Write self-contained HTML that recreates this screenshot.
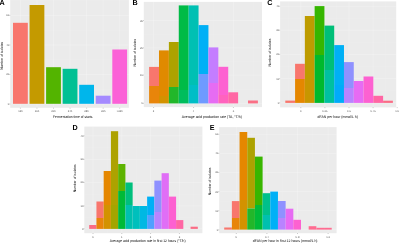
<!DOCTYPE html>
<html><head><meta charset="utf-8"><style>
html,body{margin:0;padding:0;background:#fff;}
body{width:400px;height:243px;overflow:hidden;}
svg{display:block;}
text{text-rendering:geometricPrecision;}
svg{will-change:transform;}
</style></head><body>
<svg width="400" height="243" viewBox="0 0 400 243">
<rect width="400" height="243" fill="#FFFFFF"/>
<rect x="10.20" y="0.00" width="118.70" height="107.80" fill="#EBEBEB"/>
<line x1="10.20" y1="89.25" x2="128.90" y2="89.25" stroke="#FFFFFF" stroke-width="0.3" stroke-opacity="0.3"/>
<line x1="10.20" y1="59.75" x2="128.90" y2="59.75" stroke="#FFFFFF" stroke-width="0.3" stroke-opacity="0.3"/>
<line x1="10.20" y1="30.20" x2="128.90" y2="30.20" stroke="#FFFFFF" stroke-width="0.3" stroke-opacity="0.3"/>
<line x1="10.20" y1="0.65" x2="128.90" y2="0.65" stroke="#FFFFFF" stroke-width="0.3" stroke-opacity="0.3"/>
<line x1="10.20" y1="104.00" x2="128.90" y2="104.00" stroke="#FFFFFF" stroke-width="0.5" stroke-opacity="0.45"/>
<line x1="10.20" y1="74.50" x2="128.90" y2="74.50" stroke="#FFFFFF" stroke-width="0.5" stroke-opacity="0.45"/>
<line x1="10.20" y1="45.00" x2="128.90" y2="45.00" stroke="#FFFFFF" stroke-width="0.5" stroke-opacity="0.45"/>
<line x1="10.20" y1="15.40" x2="128.90" y2="15.40" stroke="#FFFFFF" stroke-width="0.5" stroke-opacity="0.45"/>
<line x1="20.40" y1="0.00" x2="20.40" y2="107.80" stroke="#FFFFFF" stroke-width="0.5" stroke-opacity="0.45"/>
<line x1="36.95" y1="0.00" x2="36.95" y2="107.80" stroke="#FFFFFF" stroke-width="0.5" stroke-opacity="0.45"/>
<line x1="53.50" y1="0.00" x2="53.50" y2="107.80" stroke="#FFFFFF" stroke-width="0.5" stroke-opacity="0.45"/>
<line x1="70.05" y1="0.00" x2="70.05" y2="107.80" stroke="#FFFFFF" stroke-width="0.5" stroke-opacity="0.45"/>
<line x1="86.60" y1="0.00" x2="86.60" y2="107.80" stroke="#FFFFFF" stroke-width="0.5" stroke-opacity="0.45"/>
<line x1="103.15" y1="0.00" x2="103.15" y2="107.80" stroke="#FFFFFF" stroke-width="0.5" stroke-opacity="0.45"/>
<line x1="119.70" y1="0.00" x2="119.70" y2="107.80" stroke="#FFFFFF" stroke-width="0.5" stroke-opacity="0.45"/>
<rect x="13.00" y="22.80" width="14.80" height="81.00" fill="#F8766D"/>
<rect x="29.55" y="5.00" width="14.80" height="98.80" fill="#C49A00"/>
<rect x="46.10" y="67.20" width="14.80" height="36.60" fill="#53B400"/>
<rect x="62.65" y="68.80" width="14.80" height="35.00" fill="#00C094"/>
<rect x="79.20" y="84.80" width="14.80" height="19.00" fill="#00B6EB"/>
<rect x="95.75" y="95.70" width="14.80" height="8.10" fill="#A58AFF"/>
<rect x="112.30" y="49.50" width="14.80" height="54.30" fill="#FB61D7"/>
<line x1="9.50" y1="104.00" x2="10.20" y2="104.00" stroke="#333333" stroke-width="0.35"/>
<line x1="9.50" y1="74.50" x2="10.20" y2="74.50" stroke="#333333" stroke-width="0.35"/>
<line x1="9.50" y1="45.00" x2="10.20" y2="45.00" stroke="#333333" stroke-width="0.35"/>
<line x1="9.50" y1="15.40" x2="10.20" y2="15.40" stroke="#333333" stroke-width="0.35"/>
<line x1="20.40" y1="107.80" x2="20.40" y2="108.50" stroke="#333333" stroke-width="0.35"/>
<line x1="36.95" y1="107.80" x2="36.95" y2="108.50" stroke="#333333" stroke-width="0.35"/>
<line x1="53.50" y1="107.80" x2="53.50" y2="108.50" stroke="#333333" stroke-width="0.35"/>
<line x1="70.05" y1="107.80" x2="70.05" y2="108.50" stroke="#333333" stroke-width="0.35"/>
<line x1="86.60" y1="107.80" x2="86.60" y2="108.50" stroke="#333333" stroke-width="0.35"/>
<line x1="103.15" y1="107.80" x2="103.15" y2="108.50" stroke="#333333" stroke-width="0.35"/>
<line x1="119.70" y1="107.80" x2="119.70" y2="108.50" stroke="#333333" stroke-width="0.35"/>
<text transform="translate(9.30 104.95) scale(0.1)" font-family="Liberation Sans, sans-serif" font-size="27.0" font-weight="normal" text-anchor="end" fill="#4D4D4D">0</text>
<text transform="translate(9.30 75.45) scale(0.1)" font-family="Liberation Sans, sans-serif" font-size="27.0" font-weight="normal" text-anchor="end" fill="#4D4D4D">20</text>
<text transform="translate(9.30 45.95) scale(0.1)" font-family="Liberation Sans, sans-serif" font-size="27.0" font-weight="normal" text-anchor="end" fill="#4D4D4D">40</text>
<text transform="translate(9.30 16.35) scale(0.1)" font-family="Liberation Sans, sans-serif" font-size="27.0" font-weight="normal" text-anchor="end" fill="#4D4D4D">60</text>
<text transform="translate(20.40 112.20) scale(0.1)" font-family="Liberation Sans, sans-serif" font-size="27.0" font-weight="normal" text-anchor="middle" fill="#4D4D4D">12h</text>
<text transform="translate(36.95 112.20) scale(0.1)" font-family="Liberation Sans, sans-serif" font-size="27.0" font-weight="normal" text-anchor="middle" fill="#4D4D4D">16h</text>
<text transform="translate(53.50 112.20) scale(0.1)" font-family="Liberation Sans, sans-serif" font-size="27.0" font-weight="normal" text-anchor="middle" fill="#4D4D4D">20h</text>
<text transform="translate(70.05 112.20) scale(0.1)" font-family="Liberation Sans, sans-serif" font-size="27.0" font-weight="normal" text-anchor="middle" fill="#4D4D4D">24h</text>
<text transform="translate(86.60 112.20) scale(0.1)" font-family="Liberation Sans, sans-serif" font-size="27.0" font-weight="normal" text-anchor="middle" fill="#4D4D4D">28h</text>
<text transform="translate(103.15 112.20) scale(0.1)" font-family="Liberation Sans, sans-serif" font-size="27.0" font-weight="normal" text-anchor="middle" fill="#4D4D4D">32h</text>
<text transform="translate(119.70 112.20) scale(0.1)" font-family="Liberation Sans, sans-serif" font-size="27.0" font-weight="normal" text-anchor="middle" fill="#4D4D4D">&gt;32h</text>
<text transform="translate(53.10 118.10) scale(0.1)" font-family="Liberation Sans, sans-serif" font-size="37.0" font-weight="normal" text-anchor="start" fill="#000" textLength="394.0" lengthAdjust="spacingAndGlyphs">Fermentation time of starts</text>
<text transform="translate(2.90 55.75) rotate(-90) scale(0.1)" font-family="Liberation Sans, sans-serif" font-size="37.0" font-weight="normal" text-anchor="middle" fill="#000" textLength="279.0" lengthAdjust="spacingAndGlyphs">Number of isolates</text>
<text transform="translate(-0.40 4.60) scale(0.1)" font-family="Liberation Sans, sans-serif" font-size="72.0" font-weight="bold" text-anchor="start" fill="#000">A</text>
<rect x="143.80" y="1.90" width="118.20" height="105.20" fill="#EBEBEB"/>
<line x1="143.80" y1="89.20" x2="262.00" y2="89.20" stroke="#FFFFFF" stroke-width="0.3" stroke-opacity="0.3"/>
<line x1="143.80" y1="61.50" x2="262.00" y2="61.50" stroke="#FFFFFF" stroke-width="0.3" stroke-opacity="0.3"/>
<line x1="143.80" y1="34.25" x2="262.00" y2="34.25" stroke="#FFFFFF" stroke-width="0.3" stroke-opacity="0.3"/>
<line x1="143.80" y1="6.95" x2="262.00" y2="6.95" stroke="#FFFFFF" stroke-width="0.3" stroke-opacity="0.3"/>
<line x1="173.60" y1="1.90" x2="173.60" y2="107.10" stroke="#FFFFFF" stroke-width="0.3" stroke-opacity="0.3"/>
<line x1="213.50" y1="1.90" x2="213.50" y2="107.10" stroke="#FFFFFF" stroke-width="0.3" stroke-opacity="0.3"/>
<line x1="253.40" y1="1.90" x2="253.40" y2="107.10" stroke="#FFFFFF" stroke-width="0.3" stroke-opacity="0.3"/>
<line x1="143.80" y1="103.30" x2="262.00" y2="103.30" stroke="#FFFFFF" stroke-width="0.5" stroke-opacity="0.45"/>
<line x1="143.80" y1="75.10" x2="262.00" y2="75.10" stroke="#FFFFFF" stroke-width="0.5" stroke-opacity="0.45"/>
<line x1="143.80" y1="47.90" x2="262.00" y2="47.90" stroke="#FFFFFF" stroke-width="0.5" stroke-opacity="0.45"/>
<line x1="143.80" y1="20.60" x2="262.00" y2="20.60" stroke="#FFFFFF" stroke-width="0.5" stroke-opacity="0.45"/>
<line x1="153.60" y1="1.90" x2="153.60" y2="107.10" stroke="#FFFFFF" stroke-width="0.5" stroke-opacity="0.45"/>
<line x1="193.60" y1="1.90" x2="193.60" y2="107.10" stroke="#FFFFFF" stroke-width="0.5" stroke-opacity="0.45"/>
<line x1="233.40" y1="1.90" x2="233.40" y2="107.10" stroke="#FFFFFF" stroke-width="0.5" stroke-opacity="0.45"/>
<rect x="149.10" y="66.90" width="9.89" height="19.10" fill="#F8766D"/>
<rect x="149.10" y="86.00" width="9.89" height="17.40" fill="#E8850A"/>
<rect x="158.99" y="50.40" width="9.89" height="45.60" fill="#E08A00"/>
<rect x="158.99" y="96.00" width="9.89" height="7.40" fill="#D39200"/>
<rect x="168.88" y="42.00" width="9.89" height="45.00" fill="#ADA200"/>
<rect x="168.88" y="87.00" width="9.89" height="16.40" fill="#22B72A"/>
<rect x="178.77" y="5.40" width="9.89" height="84.60" fill="#00BB46"/>
<rect x="178.77" y="90.00" width="9.89" height="13.40" fill="#00BD5C"/>
<rect x="188.66" y="5.40" width="9.89" height="79.60" fill="#00C0B3"/>
<rect x="188.66" y="85.00" width="9.89" height="18.40" fill="#00BEC6"/>
<rect x="198.55" y="25.10" width="9.89" height="48.90" fill="#00B0F6"/>
<rect x="198.55" y="74.00" width="9.89" height="29.40" fill="#6F9AFF"/>
<rect x="208.44" y="47.40" width="9.89" height="35.60" fill="#C47DFF"/>
<rect x="208.44" y="83.00" width="9.89" height="20.40" fill="#E66CF3"/>
<rect x="218.33" y="66.80" width="9.89" height="28.20" fill="#FD61D1"/>
<rect x="218.33" y="95.00" width="9.89" height="8.40" fill="#FF63BE"/>
<rect x="228.22" y="92.30" width="9.89" height="11.10" fill="#FF67A4"/>
<rect x="228.22" y="103.40" width="9.89" height="0.00" fill="#FF67A4"/>
<rect x="248.00" y="100.50" width="9.89" height="2.90" fill="#FA6F85"/>
<rect x="248.00" y="103.40" width="9.89" height="0.00" fill="#FA6F85"/>
<line x1="143.10" y1="103.30" x2="143.80" y2="103.30" stroke="#333333" stroke-width="0.35"/>
<line x1="143.10" y1="75.10" x2="143.80" y2="75.10" stroke="#333333" stroke-width="0.35"/>
<line x1="143.10" y1="47.90" x2="143.80" y2="47.90" stroke="#333333" stroke-width="0.35"/>
<line x1="143.10" y1="20.60" x2="143.80" y2="20.60" stroke="#333333" stroke-width="0.35"/>
<line x1="153.60" y1="107.10" x2="153.60" y2="107.80" stroke="#333333" stroke-width="0.35"/>
<line x1="193.60" y1="107.10" x2="193.60" y2="107.80" stroke="#333333" stroke-width="0.35"/>
<line x1="233.40" y1="107.10" x2="233.40" y2="107.80" stroke="#333333" stroke-width="0.35"/>
<text transform="translate(142.90 104.25) scale(0.1)" font-family="Liberation Sans, sans-serif" font-size="27.0" font-weight="normal" text-anchor="end" fill="#4D4D4D">0</text>
<text transform="translate(142.90 76.05) scale(0.1)" font-family="Liberation Sans, sans-serif" font-size="27.0" font-weight="normal" text-anchor="end" fill="#4D4D4D">10</text>
<text transform="translate(142.90 48.85) scale(0.1)" font-family="Liberation Sans, sans-serif" font-size="27.0" font-weight="normal" text-anchor="end" fill="#4D4D4D">20</text>
<text transform="translate(142.90 21.55) scale(0.1)" font-family="Liberation Sans, sans-serif" font-size="27.0" font-weight="normal" text-anchor="end" fill="#4D4D4D">30</text>
<text transform="translate(153.60 112.20) scale(0.1)" font-family="Liberation Sans, sans-serif" font-size="27.0" font-weight="normal" text-anchor="middle" fill="#4D4D4D">2</text>
<text transform="translate(193.60 112.20) scale(0.1)" font-family="Liberation Sans, sans-serif" font-size="27.0" font-weight="normal" text-anchor="middle" fill="#4D4D4D">4</text>
<text transform="translate(233.40 112.20) scale(0.1)" font-family="Liberation Sans, sans-serif" font-size="27.0" font-weight="normal" text-anchor="middle" fill="#4D4D4D">6</text>
<text transform="translate(181.80 118.10) scale(0.1)" font-family="Liberation Sans, sans-serif" font-size="37.0" font-weight="normal" text-anchor="start" fill="#000" textLength="601.0" lengthAdjust="spacingAndGlyphs">Average acid production rate (TA, °T/h)</text>
<text transform="translate(136.20 52.75) rotate(-90) scale(0.1)" font-family="Liberation Sans, sans-serif" font-size="37.0" font-weight="normal" text-anchor="middle" fill="#000" textLength="277.0" lengthAdjust="spacingAndGlyphs">Number of isolates</text>
<text transform="translate(132.50 4.50) scale(0.1)" font-family="Liberation Sans, sans-serif" font-size="72.0" font-weight="bold" text-anchor="start" fill="#000">B</text>
<rect x="280.10" y="1.40" width="116.10" height="106.00" fill="#EBEBEB"/>
<line x1="280.10" y1="90.70" x2="396.20" y2="90.70" stroke="#FFFFFF" stroke-width="0.3" stroke-opacity="0.3"/>
<line x1="280.10" y1="66.50" x2="396.20" y2="66.50" stroke="#FFFFFF" stroke-width="0.3" stroke-opacity="0.3"/>
<line x1="280.10" y1="42.30" x2="396.20" y2="42.30" stroke="#FFFFFF" stroke-width="0.3" stroke-opacity="0.3"/>
<line x1="280.10" y1="18.25" x2="396.20" y2="18.25" stroke="#FFFFFF" stroke-width="0.3" stroke-opacity="0.3"/>
<line x1="288.70" y1="1.40" x2="288.70" y2="107.40" stroke="#FFFFFF" stroke-width="0.3" stroke-opacity="0.3"/>
<line x1="312.80" y1="1.40" x2="312.80" y2="107.40" stroke="#FFFFFF" stroke-width="0.3" stroke-opacity="0.3"/>
<line x1="336.90" y1="1.40" x2="336.90" y2="107.40" stroke="#FFFFFF" stroke-width="0.3" stroke-opacity="0.3"/>
<line x1="361.00" y1="1.40" x2="361.00" y2="107.40" stroke="#FFFFFF" stroke-width="0.3" stroke-opacity="0.3"/>
<line x1="385.10" y1="1.40" x2="385.10" y2="107.40" stroke="#FFFFFF" stroke-width="0.3" stroke-opacity="0.3"/>
<line x1="280.10" y1="102.80" x2="396.20" y2="102.80" stroke="#FFFFFF" stroke-width="0.5" stroke-opacity="0.45"/>
<line x1="280.10" y1="78.60" x2="396.20" y2="78.60" stroke="#FFFFFF" stroke-width="0.5" stroke-opacity="0.45"/>
<line x1="280.10" y1="54.40" x2="396.20" y2="54.40" stroke="#FFFFFF" stroke-width="0.5" stroke-opacity="0.45"/>
<line x1="280.10" y1="30.20" x2="396.20" y2="30.20" stroke="#FFFFFF" stroke-width="0.5" stroke-opacity="0.45"/>
<line x1="280.10" y1="6.30" x2="396.20" y2="6.30" stroke="#FFFFFF" stroke-width="0.5" stroke-opacity="0.45"/>
<line x1="300.80" y1="1.40" x2="300.80" y2="107.40" stroke="#FFFFFF" stroke-width="0.5" stroke-opacity="0.45"/>
<line x1="324.90" y1="1.40" x2="324.90" y2="107.40" stroke="#FFFFFF" stroke-width="0.5" stroke-opacity="0.45"/>
<line x1="349.00" y1="1.40" x2="349.00" y2="107.40" stroke="#FFFFFF" stroke-width="0.5" stroke-opacity="0.45"/>
<line x1="373.10" y1="1.40" x2="373.10" y2="107.40" stroke="#FFFFFF" stroke-width="0.5" stroke-opacity="0.45"/>
<rect x="285.30" y="100.60" width="9.78" height="2.30" fill="#F8766D"/>
<rect x="285.30" y="102.90" width="9.78" height="0.00" fill="#F8766D"/>
<rect x="295.08" y="63.80" width="9.78" height="15.20" fill="#F8766D"/>
<rect x="295.08" y="79.00" width="9.78" height="23.90" fill="#E58700"/>
<rect x="304.86" y="16.00" width="9.78" height="64.00" fill="#BE9C00"/>
<rect x="304.86" y="80.00" width="9.78" height="22.90" fill="#C89600"/>
<rect x="314.64" y="6.10" width="9.78" height="48.90" fill="#36B600"/>
<rect x="314.64" y="55.00" width="9.78" height="47.90" fill="#00B92C"/>
<rect x="324.42" y="25.60" width="9.78" height="44.40" fill="#00BF78"/>
<rect x="324.42" y="70.00" width="9.78" height="32.90" fill="#00C0A0"/>
<rect x="334.20" y="45.10" width="9.78" height="39.90" fill="#00B0F6"/>
<rect x="334.20" y="85.00" width="9.78" height="17.90" fill="#00ABFA"/>
<rect x="343.98" y="62.10" width="9.78" height="25.90" fill="#8F91FF"/>
<rect x="343.98" y="88.00" width="9.78" height="14.90" fill="#B983FF"/>
<rect x="353.76" y="81.00" width="9.78" height="21.90" fill="#E76BF3"/>
<rect x="353.76" y="102.90" width="9.78" height="0.00" fill="#E76BF3"/>
<rect x="363.54" y="76.50" width="9.78" height="26.40" fill="#FD61D1"/>
<rect x="363.54" y="102.90" width="9.78" height="0.00" fill="#FD61D1"/>
<rect x="373.32" y="95.80" width="9.78" height="7.10" fill="#FF67A4"/>
<rect x="373.32" y="102.90" width="9.78" height="0.00" fill="#FF67A4"/>
<rect x="383.10" y="100.70" width="9.78" height="2.20" fill="#FA6C85"/>
<rect x="383.10" y="102.90" width="9.78" height="0.00" fill="#FA6C85"/>
<line x1="279.40" y1="102.80" x2="280.10" y2="102.80" stroke="#333333" stroke-width="0.35"/>
<line x1="279.40" y1="78.60" x2="280.10" y2="78.60" stroke="#333333" stroke-width="0.35"/>
<line x1="279.40" y1="54.40" x2="280.10" y2="54.40" stroke="#333333" stroke-width="0.35"/>
<line x1="279.40" y1="30.20" x2="280.10" y2="30.20" stroke="#333333" stroke-width="0.35"/>
<line x1="279.40" y1="6.30" x2="280.10" y2="6.30" stroke="#333333" stroke-width="0.35"/>
<line x1="300.80" y1="107.40" x2="300.80" y2="108.10" stroke="#333333" stroke-width="0.35"/>
<line x1="324.90" y1="107.40" x2="324.90" y2="108.10" stroke="#333333" stroke-width="0.35"/>
<line x1="349.00" y1="107.40" x2="349.00" y2="108.10" stroke="#333333" stroke-width="0.35"/>
<line x1="373.10" y1="107.40" x2="373.10" y2="108.10" stroke="#333333" stroke-width="0.35"/>
<line x1="397.20" y1="107.40" x2="397.20" y2="108.10" stroke="#333333" stroke-width="0.35"/>
<text transform="translate(279.20 103.75) scale(0.1)" font-family="Liberation Sans, sans-serif" font-size="27.0" font-weight="normal" text-anchor="end" fill="#4D4D4D">0</text>
<text transform="translate(279.20 79.55) scale(0.1)" font-family="Liberation Sans, sans-serif" font-size="27.0" font-weight="normal" text-anchor="end" fill="#4D4D4D">10</text>
<text transform="translate(279.20 55.35) scale(0.1)" font-family="Liberation Sans, sans-serif" font-size="27.0" font-weight="normal" text-anchor="end" fill="#4D4D4D">20</text>
<text transform="translate(279.20 31.15) scale(0.1)" font-family="Liberation Sans, sans-serif" font-size="27.0" font-weight="normal" text-anchor="end" fill="#4D4D4D">30</text>
<text transform="translate(279.20 7.25) scale(0.1)" font-family="Liberation Sans, sans-serif" font-size="27.0" font-weight="normal" text-anchor="end" fill="#4D4D4D">40</text>
<text transform="translate(300.80 112.20) scale(0.1)" font-family="Liberation Sans, sans-serif" font-size="27.0" font-weight="normal" text-anchor="middle" fill="#4D4D4D">0</text>
<text transform="translate(324.90 112.20) scale(0.1)" font-family="Liberation Sans, sans-serif" font-size="27.0" font-weight="normal" text-anchor="middle" fill="#4D4D4D">0.25</text>
<text transform="translate(349.00 112.20) scale(0.1)" font-family="Liberation Sans, sans-serif" font-size="27.0" font-weight="normal" text-anchor="middle" fill="#4D4D4D">0.5</text>
<text transform="translate(373.10 112.20) scale(0.1)" font-family="Liberation Sans, sans-serif" font-size="27.0" font-weight="normal" text-anchor="middle" fill="#4D4D4D">0.75</text>
<text transform="translate(397.20 112.20) scale(0.1)" font-family="Liberation Sans, sans-serif" font-size="27.0" font-weight="normal" text-anchor="middle" fill="#4D4D4D">1.0</text>
<text transform="translate(317.50 118.10) scale(0.1)" font-family="Liberation Sans, sans-serif" font-size="37.0" font-weight="normal" text-anchor="start" fill="#000" textLength="405.0" lengthAdjust="spacingAndGlyphs">dFAN per hour (mmol/L h)</text>
<text transform="translate(271.40 52.55) rotate(-90) scale(0.1)" font-family="Liberation Sans, sans-serif" font-size="37.0" font-weight="normal" text-anchor="middle" fill="#000" textLength="277.0" lengthAdjust="spacingAndGlyphs">Number of isolates</text>
<text transform="translate(267.30 4.50) scale(0.1)" font-family="Liberation Sans, sans-serif" font-size="72.0" font-weight="bold" text-anchor="start" fill="#000">C</text>
<rect x="84.30" y="126.60" width="118.10" height="106.60" fill="#EBEBEB"/>
<line x1="84.30" y1="217.30" x2="202.40" y2="217.30" stroke="#FFFFFF" stroke-width="0.3" stroke-opacity="0.3"/>
<line x1="84.30" y1="194.20" x2="202.40" y2="194.20" stroke="#FFFFFF" stroke-width="0.3" stroke-opacity="0.3"/>
<line x1="84.30" y1="170.95" x2="202.40" y2="170.95" stroke="#FFFFFF" stroke-width="0.3" stroke-opacity="0.3"/>
<line x1="84.30" y1="147.60" x2="202.40" y2="147.60" stroke="#FFFFFF" stroke-width="0.3" stroke-opacity="0.3"/>
<line x1="107.40" y1="126.60" x2="107.40" y2="233.20" stroke="#FFFFFF" stroke-width="0.3" stroke-opacity="0.3"/>
<line x1="136.20" y1="126.60" x2="136.20" y2="233.20" stroke="#FFFFFF" stroke-width="0.3" stroke-opacity="0.3"/>
<line x1="165.00" y1="126.60" x2="165.00" y2="233.20" stroke="#FFFFFF" stroke-width="0.3" stroke-opacity="0.3"/>
<line x1="193.80" y1="126.60" x2="193.80" y2="233.20" stroke="#FFFFFF" stroke-width="0.3" stroke-opacity="0.3"/>
<line x1="84.30" y1="228.70" x2="202.40" y2="228.70" stroke="#FFFFFF" stroke-width="0.5" stroke-opacity="0.45"/>
<line x1="84.30" y1="205.90" x2="202.40" y2="205.90" stroke="#FFFFFF" stroke-width="0.5" stroke-opacity="0.45"/>
<line x1="84.30" y1="182.50" x2="202.40" y2="182.50" stroke="#FFFFFF" stroke-width="0.5" stroke-opacity="0.45"/>
<line x1="84.30" y1="159.40" x2="202.40" y2="159.40" stroke="#FFFFFF" stroke-width="0.5" stroke-opacity="0.45"/>
<line x1="84.30" y1="135.80" x2="202.40" y2="135.80" stroke="#FFFFFF" stroke-width="0.5" stroke-opacity="0.45"/>
<line x1="93.00" y1="126.60" x2="93.00" y2="233.20" stroke="#FFFFFF" stroke-width="0.5" stroke-opacity="0.45"/>
<line x1="121.80" y1="126.60" x2="121.80" y2="233.20" stroke="#FFFFFF" stroke-width="0.5" stroke-opacity="0.45"/>
<line x1="150.60" y1="126.60" x2="150.60" y2="233.20" stroke="#FFFFFF" stroke-width="0.5" stroke-opacity="0.45"/>
<line x1="179.40" y1="126.60" x2="179.40" y2="233.20" stroke="#FFFFFF" stroke-width="0.5" stroke-opacity="0.45"/>
<rect x="89.20" y="225.00" width="7.24" height="3.90" fill="#FA6C85"/>
<rect x="89.20" y="228.90" width="7.24" height="0.00" fill="#FA6C85"/>
<rect x="96.44" y="201.50" width="7.24" height="16.50" fill="#F8766D"/>
<rect x="96.44" y="218.00" width="7.24" height="10.90" fill="#E8850A"/>
<rect x="103.68" y="171.00" width="7.24" height="34.00" fill="#E58700"/>
<rect x="103.68" y="205.00" width="7.24" height="23.90" fill="#D39200"/>
<rect x="110.92" y="131.20" width="7.24" height="73.80" fill="#ADA200"/>
<rect x="110.92" y="205.00" width="7.24" height="23.90" fill="#A3A500"/>
<rect x="118.16" y="164.00" width="7.24" height="27.00" fill="#5DB300"/>
<rect x="118.16" y="191.00" width="7.24" height="37.90" fill="#00BA38"/>
<rect x="125.40" y="182.50" width="7.24" height="22.50" fill="#00BF7D"/>
<rect x="125.40" y="205.00" width="7.24" height="23.90" fill="#00C0AF"/>
<rect x="132.64" y="206.00" width="7.24" height="22.90" fill="#00C0BC"/>
<rect x="132.64" y="228.90" width="7.24" height="0.00" fill="#00C0BC"/>
<rect x="139.88" y="206.00" width="7.24" height="22.90" fill="#00B8E3"/>
<rect x="139.88" y="228.90" width="7.24" height="0.00" fill="#00B8E3"/>
<rect x="147.12" y="196.60" width="7.24" height="18.40" fill="#00B0F6"/>
<rect x="147.12" y="215.00" width="7.24" height="13.90" fill="#4FA0FF"/>
<rect x="154.36" y="180.60" width="7.24" height="31.40" fill="#8F91FF"/>
<rect x="154.36" y="212.00" width="7.24" height="16.90" fill="#B983FF"/>
<rect x="161.60" y="173.20" width="7.24" height="55.70" fill="#E06EF6"/>
<rect x="161.60" y="228.90" width="7.24" height="0.00" fill="#E76BF3"/>
<rect x="168.84" y="196.60" width="7.24" height="32.30" fill="#FD61D1"/>
<rect x="168.84" y="228.90" width="7.24" height="0.00" fill="#FF63BE"/>
<rect x="176.08" y="220.10" width="7.24" height="8.80" fill="#FF67A4"/>
<rect x="176.08" y="228.90" width="7.24" height="0.00" fill="#FF67A4"/>
<rect x="190.56" y="226.70" width="7.24" height="2.20" fill="#FA6C85"/>
<rect x="190.56" y="228.90" width="7.24" height="0.00" fill="#FA6C85"/>
<line x1="83.60" y1="228.70" x2="84.30" y2="228.70" stroke="#333333" stroke-width="0.35"/>
<line x1="83.60" y1="205.90" x2="84.30" y2="205.90" stroke="#333333" stroke-width="0.35"/>
<line x1="83.60" y1="182.50" x2="84.30" y2="182.50" stroke="#333333" stroke-width="0.35"/>
<line x1="83.60" y1="159.40" x2="84.30" y2="159.40" stroke="#333333" stroke-width="0.35"/>
<line x1="83.60" y1="135.80" x2="84.30" y2="135.80" stroke="#333333" stroke-width="0.35"/>
<line x1="93.00" y1="233.20" x2="93.00" y2="233.90" stroke="#333333" stroke-width="0.35"/>
<line x1="121.80" y1="233.20" x2="121.80" y2="233.90" stroke="#333333" stroke-width="0.35"/>
<line x1="150.60" y1="233.20" x2="150.60" y2="233.90" stroke="#333333" stroke-width="0.35"/>
<line x1="179.40" y1="233.20" x2="179.40" y2="233.90" stroke="#333333" stroke-width="0.35"/>
<text transform="translate(83.40 229.65) scale(0.1)" font-family="Liberation Sans, sans-serif" font-size="27.0" font-weight="normal" text-anchor="end" fill="#4D4D4D">0</text>
<text transform="translate(83.40 206.85) scale(0.1)" font-family="Liberation Sans, sans-serif" font-size="27.0" font-weight="normal" text-anchor="end" fill="#4D4D4D">10</text>
<text transform="translate(83.40 183.45) scale(0.1)" font-family="Liberation Sans, sans-serif" font-size="27.0" font-weight="normal" text-anchor="end" fill="#4D4D4D">20</text>
<text transform="translate(83.40 160.35) scale(0.1)" font-family="Liberation Sans, sans-serif" font-size="27.0" font-weight="normal" text-anchor="end" fill="#4D4D4D">30</text>
<text transform="translate(83.40 136.75) scale(0.1)" font-family="Liberation Sans, sans-serif" font-size="27.0" font-weight="normal" text-anchor="end" fill="#4D4D4D">40</text>
<text transform="translate(93.00 237.50) scale(0.1)" font-family="Liberation Sans, sans-serif" font-size="27.0" font-weight="normal" text-anchor="middle" fill="#4D4D4D">0</text>
<text transform="translate(121.80 237.50) scale(0.1)" font-family="Liberation Sans, sans-serif" font-size="27.0" font-weight="normal" text-anchor="middle" fill="#4D4D4D">1</text>
<text transform="translate(150.60 237.50) scale(0.1)" font-family="Liberation Sans, sans-serif" font-size="27.0" font-weight="normal" text-anchor="middle" fill="#4D4D4D">2</text>
<text transform="translate(179.40 237.50) scale(0.1)" font-family="Liberation Sans, sans-serif" font-size="27.0" font-weight="normal" text-anchor="middle" fill="#4D4D4D">3</text>
<text transform="translate(109.75 242.10) scale(0.1)" font-family="Liberation Sans, sans-serif" font-size="37.0" font-weight="normal" text-anchor="start" fill="#000" textLength="758.5" lengthAdjust="spacingAndGlyphs">Average acid production rate in first 12 hours (°T/h)</text>
<text transform="translate(75.80 178.25) rotate(-90) scale(0.1)" font-family="Liberation Sans, sans-serif" font-size="37.0" font-weight="normal" text-anchor="middle" fill="#000" textLength="279.0" lengthAdjust="spacingAndGlyphs">Number of isolates</text>
<text transform="translate(72.50 129.80) scale(0.1)" font-family="Liberation Sans, sans-serif" font-size="72.0" font-weight="bold" text-anchor="start" fill="#000">D</text>
<rect x="219.20" y="127.10" width="117.40" height="106.10" fill="#EBEBEB"/>
<line x1="219.20" y1="220.25" x2="336.60" y2="220.25" stroke="#FFFFFF" stroke-width="0.3" stroke-opacity="0.3"/>
<line x1="219.20" y1="201.15" x2="336.60" y2="201.15" stroke="#FFFFFF" stroke-width="0.3" stroke-opacity="0.3"/>
<line x1="219.20" y1="182.05" x2="336.60" y2="182.05" stroke="#FFFFFF" stroke-width="0.3" stroke-opacity="0.3"/>
<line x1="219.20" y1="162.95" x2="336.60" y2="162.95" stroke="#FFFFFF" stroke-width="0.3" stroke-opacity="0.3"/>
<line x1="219.20" y1="143.85" x2="336.60" y2="143.85" stroke="#FFFFFF" stroke-width="0.3" stroke-opacity="0.3"/>
<line x1="221.00" y1="127.10" x2="221.00" y2="233.20" stroke="#FFFFFF" stroke-width="0.3" stroke-opacity="0.3"/>
<line x1="251.60" y1="127.10" x2="251.60" y2="233.20" stroke="#FFFFFF" stroke-width="0.3" stroke-opacity="0.3"/>
<line x1="282.20" y1="127.10" x2="282.20" y2="233.20" stroke="#FFFFFF" stroke-width="0.3" stroke-opacity="0.3"/>
<line x1="312.80" y1="127.10" x2="312.80" y2="233.20" stroke="#FFFFFF" stroke-width="0.3" stroke-opacity="0.3"/>
<line x1="219.20" y1="229.80" x2="336.60" y2="229.80" stroke="#FFFFFF" stroke-width="0.5" stroke-opacity="0.45"/>
<line x1="219.20" y1="210.70" x2="336.60" y2="210.70" stroke="#FFFFFF" stroke-width="0.5" stroke-opacity="0.45"/>
<line x1="219.20" y1="191.60" x2="336.60" y2="191.60" stroke="#FFFFFF" stroke-width="0.5" stroke-opacity="0.45"/>
<line x1="219.20" y1="172.50" x2="336.60" y2="172.50" stroke="#FFFFFF" stroke-width="0.5" stroke-opacity="0.45"/>
<line x1="219.20" y1="153.40" x2="336.60" y2="153.40" stroke="#FFFFFF" stroke-width="0.5" stroke-opacity="0.45"/>
<line x1="219.20" y1="134.30" x2="336.60" y2="134.30" stroke="#FFFFFF" stroke-width="0.5" stroke-opacity="0.45"/>
<line x1="236.30" y1="127.10" x2="236.30" y2="233.20" stroke="#FFFFFF" stroke-width="0.5" stroke-opacity="0.45"/>
<line x1="266.90" y1="127.10" x2="266.90" y2="233.20" stroke="#FFFFFF" stroke-width="0.5" stroke-opacity="0.45"/>
<line x1="297.50" y1="127.10" x2="297.50" y2="233.20" stroke="#FFFFFF" stroke-width="0.5" stroke-opacity="0.45"/>
<line x1="328.10" y1="127.10" x2="328.10" y2="233.20" stroke="#FFFFFF" stroke-width="0.5" stroke-opacity="0.45"/>
<rect x="224.20" y="227.50" width="7.68" height="2.10" fill="#F8766D"/>
<rect x="224.20" y="229.60" width="7.68" height="0.00" fill="#F8766D"/>
<rect x="231.88" y="201.10" width="7.68" height="16.90" fill="#F8766D"/>
<rect x="231.88" y="218.00" width="7.68" height="11.60" fill="#E8850A"/>
<rect x="239.56" y="132.00" width="7.68" height="68.00" fill="#E58700"/>
<rect x="239.56" y="200.00" width="7.68" height="29.60" fill="#D39200"/>
<rect x="247.24" y="137.80" width="7.68" height="70.70" fill="#ADA200"/>
<rect x="247.24" y="208.50" width="7.68" height="21.10" fill="#22B72A"/>
<rect x="254.92" y="156.60" width="7.68" height="48.40" fill="#39B600"/>
<rect x="254.92" y="205.00" width="7.68" height="24.60" fill="#00BA38"/>
<rect x="262.60" y="193.20" width="7.68" height="21.80" fill="#00C08B"/>
<rect x="262.60" y="215.00" width="7.68" height="14.60" fill="#00C0AF"/>
<rect x="270.28" y="191.60" width="7.68" height="38.00" fill="#00B0F6"/>
<rect x="270.28" y="229.60" width="7.68" height="0.00" fill="#00B0F6"/>
<rect x="277.96" y="201.00" width="7.68" height="17.00" fill="#8F91FF"/>
<rect x="277.96" y="218.00" width="7.68" height="11.60" fill="#B983FF"/>
<rect x="285.64" y="208.70" width="7.68" height="20.90" fill="#E76BF3"/>
<rect x="285.64" y="229.60" width="7.68" height="0.00" fill="#E76BF3"/>
<rect x="293.32" y="219.80" width="7.68" height="9.80" fill="#FD61D1"/>
<rect x="293.32" y="229.60" width="7.68" height="0.00" fill="#FF63BE"/>
<rect x="308.68" y="226.20" width="7.68" height="3.40" fill="#FF6C91"/>
<rect x="308.68" y="229.60" width="7.68" height="0.00" fill="#FF6C91"/>
<rect x="316.36" y="227.80" width="7.68" height="1.80" fill="#FF6C91"/>
<rect x="316.36" y="229.60" width="7.68" height="0.00" fill="#FF6C91"/>
<rect x="324.04" y="227.80" width="7.68" height="1.80" fill="#FF6C91"/>
<rect x="324.04" y="229.60" width="7.68" height="0.00" fill="#FF6C91"/>
<line x1="218.50" y1="229.80" x2="219.20" y2="229.80" stroke="#333333" stroke-width="0.35"/>
<line x1="218.50" y1="210.70" x2="219.20" y2="210.70" stroke="#333333" stroke-width="0.35"/>
<line x1="218.50" y1="191.60" x2="219.20" y2="191.60" stroke="#333333" stroke-width="0.35"/>
<line x1="218.50" y1="172.50" x2="219.20" y2="172.50" stroke="#333333" stroke-width="0.35"/>
<line x1="218.50" y1="153.40" x2="219.20" y2="153.40" stroke="#333333" stroke-width="0.35"/>
<line x1="218.50" y1="134.30" x2="219.20" y2="134.30" stroke="#333333" stroke-width="0.35"/>
<line x1="236.30" y1="233.20" x2="236.30" y2="233.90" stroke="#333333" stroke-width="0.35"/>
<line x1="266.90" y1="233.20" x2="266.90" y2="233.90" stroke="#333333" stroke-width="0.35"/>
<line x1="297.50" y1="233.20" x2="297.50" y2="233.90" stroke="#333333" stroke-width="0.35"/>
<line x1="328.10" y1="233.20" x2="328.10" y2="233.90" stroke="#333333" stroke-width="0.35"/>
<text transform="translate(218.30 230.75) scale(0.1)" font-family="Liberation Sans, sans-serif" font-size="27.0" font-weight="normal" text-anchor="end" fill="#4D4D4D">0</text>
<text transform="translate(218.30 211.65) scale(0.1)" font-family="Liberation Sans, sans-serif" font-size="27.0" font-weight="normal" text-anchor="end" fill="#4D4D4D">10</text>
<text transform="translate(218.30 192.55) scale(0.1)" font-family="Liberation Sans, sans-serif" font-size="27.0" font-weight="normal" text-anchor="end" fill="#4D4D4D">20</text>
<text transform="translate(218.30 173.45) scale(0.1)" font-family="Liberation Sans, sans-serif" font-size="27.0" font-weight="normal" text-anchor="end" fill="#4D4D4D">30</text>
<text transform="translate(218.30 154.35) scale(0.1)" font-family="Liberation Sans, sans-serif" font-size="27.0" font-weight="normal" text-anchor="end" fill="#4D4D4D">40</text>
<text transform="translate(218.30 135.25) scale(0.1)" font-family="Liberation Sans, sans-serif" font-size="27.0" font-weight="normal" text-anchor="end" fill="#4D4D4D">50</text>
<text transform="translate(236.30 237.60) scale(0.1)" font-family="Liberation Sans, sans-serif" font-size="27.0" font-weight="normal" text-anchor="middle" fill="#4D4D4D">0</text>
<text transform="translate(266.90 237.60) scale(0.1)" font-family="Liberation Sans, sans-serif" font-size="27.0" font-weight="normal" text-anchor="middle" fill="#4D4D4D">0.4</text>
<text transform="translate(297.50 237.60) scale(0.1)" font-family="Liberation Sans, sans-serif" font-size="27.0" font-weight="normal" text-anchor="middle" fill="#4D4D4D">0.8</text>
<text transform="translate(328.10 237.60) scale(0.1)" font-family="Liberation Sans, sans-serif" font-size="27.0" font-weight="normal" text-anchor="middle" fill="#4D4D4D">1.2</text>
<text transform="translate(252.80 242.10) scale(0.1)" font-family="Liberation Sans, sans-serif" font-size="37.0" font-weight="normal" text-anchor="start" fill="#000" textLength="647.0" lengthAdjust="spacingAndGlyphs">dFAN per hour in first 12 hours (mmol/L h)</text>
<text transform="translate(211.20 181.40) rotate(-90) scale(0.1)" font-family="Liberation Sans, sans-serif" font-size="37.0" font-weight="normal" text-anchor="middle" fill="#000" textLength="276.0" lengthAdjust="spacingAndGlyphs">Number of isolates</text>
<text transform="translate(209.70 129.80) scale(0.1)" font-family="Liberation Sans, sans-serif" font-size="72.0" font-weight="bold" text-anchor="start" fill="#000">E</text>
</svg>
</body></html>
